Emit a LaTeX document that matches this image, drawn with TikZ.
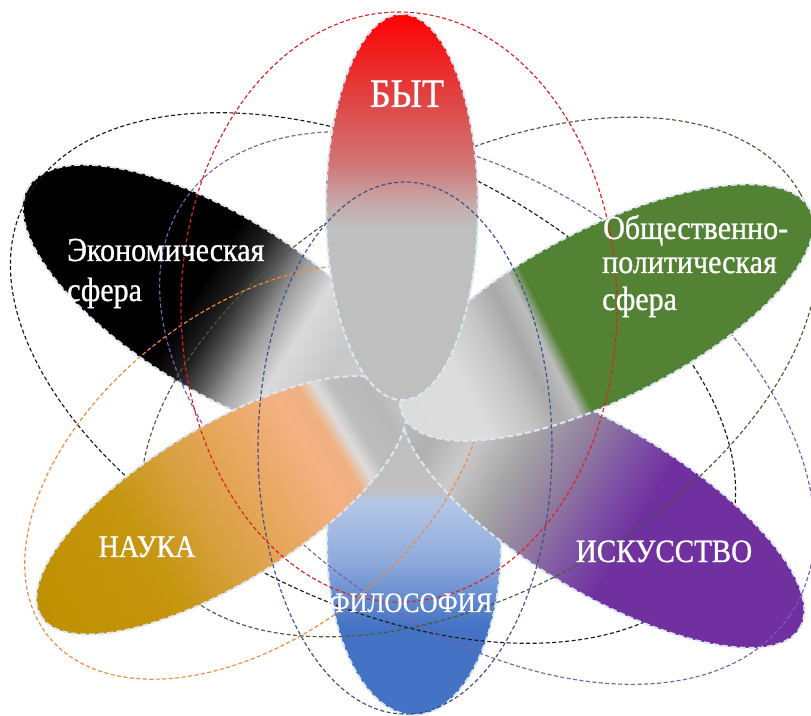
\documentclass[tikz,border=0pt]{standalone}
\usepackage{fontspec}
\setmainfont{Liberation Serif}
\newfontfamily\lblfont[FakeBold=0.9]{Liberation Serif}
\usepackage{graphicx}
% colours
\definecolor{gA}{HTML}{BFBFBF}
\definecolor{rA}{HTML}{C7A9A9}\definecolor{rB}{HTML}{D07777}\definecolor{rC}{HTML}{E04444}\definecolor{rD}{HTML}{FF0000}
\definecolor{gC}{HTML}{C0C0C0}\definecolor{bA}{HTML}{B4C7E7}\definecolor{bB}{HTML}{8EAADB}\definecolor{bC}{HTML}{4472C4}
\definecolor{kA}{HTML}{D0D0D0}\definecolor{kB}{HTML}{C8C8C8}\definecolor{kC}{HTML}{DADADA}\definecolor{kD}{HTML}{A0A0A0}\definecolor{kE}{HTML}{606060}\definecolor{kF}{HTML}{202020}\definecolor{kG}{HTML}{000000}
\definecolor{gnA}{HTML}{D9D9D9}\definecolor{gnB}{HTML}{DCDCDC}\definecolor{gnC}{HTML}{C4C4C4}\definecolor{gnD}{HTML}{A9A9A9}\definecolor{gnE}{HTML}{BCBCBC}\definecolor{gnF}{HTML}{548235}
\definecolor{pA}{HTML}{C0C0C0}\definecolor{pB}{HTML}{B0B0B0}\definecolor{pC}{HTML}{CACACA}\definecolor{pD}{HTML}{A6A6A6}\definecolor{pE}{HTML}{8F7A9F}\definecolor{pF}{HTML}{7D4FA5}\definecolor{pG}{HTML}{7030A0}
\definecolor{nA}{HTML}{C8C8C8}\definecolor{nB}{HTML}{B8B8B8}\definecolor{nC}{HTML}{BDBDBD}\definecolor{nD}{HTML}{DCDCDC}\definecolor{nE}{HTML}{F0B080}\definecolor{nF}{HTML}{F4B183}\definecolor{nG}{HTML}{E8A860}\definecolor{nH}{HTML}{D8A040}\definecolor{nI}{HTML}{C5960F}\definecolor{nJ}{HTML}{BF9000}
\definecolor{edgeC}{HTML}{DCE6F5}
\definecolor{dRed}{HTML}{E02020}
\definecolor{dBlack}{HTML}{1A1A1A}
\definecolor{dOlive}{HTML}{4A5A36}
\definecolor{dOrange}{HTML}{F08A3C}
\definecolor{dPurple}{HTML}{7E5CB0}
\definecolor{dNavy}{HTML}{3C4F8C}
% shadings: 25bp = inner tip, 75bp = outer tip
\pgfdeclarehorizontalshading{shTop}{100bp}{color(0bp)=(gA); color(47.5bp)=(gA); color(50.5bp)=(rA); color(55.5bp)=(rB); color(64bp)=(rC); color(75bp)=(rD); color(100bp)=(rD)}
\pgfdeclarehorizontalshading{shBottom}{100bp}{color(0bp)=(gC); color(42bp)=(gC); color(43.5bp)=(bA); color(52.5bp)=(bB); color(62bp)=(bC); color(100bp)=(bC)}
\pgfdeclarehorizontalshading{shBlack}{100bp}{color(0bp)=(kA); color(25bp)=(kA); color(35bp)=(kB); color(40bp)=(kC); color(43.5bp)=(kD); color(46bp)=(kE); color(49bp)=(kF); color(52.5bp)=(kG); color(100bp)=(kG)}
\pgfdeclarehorizontalshading{shGreen}{100bp}{color(0bp)=(gnA); color(32.5bp)=(gnB); color(37bp)=(gnC); color(40bp)=(gnD); color(42.25bp)=(gnE); color(43.75bp)=(gnF); color(100bp)=(gnF)}
\pgfdeclarehorizontalshading{shPurple}{100bp}{color(0bp)=(pA); color(25bp)=(pA); color(30bp)=(pB); color(34bp)=(pC); color(39bp)=(pD); color(45bp)=(pE); color(50bp)=(pF); color(54bp)=(pG); color(100bp)=(pG)}
\pgfdeclarehorizontalshading{shNauka}{100bp}{color(0bp)=(nA); color(25bp)=(nA); color(28bp)=(nB); color(31.5bp)=(nC); color(33.25bp)=(nD); color(35bp)=(nE); color(38bp)=(nF); color(45bp)=(nG); color(52.5bp)=(nH); color(60bp)=(nI); color(75bp)=(nJ); color(100bp)=(nJ)}
\tikzset{
  petaledge/.style={draw=edgeC, line width=2pt, dash pattern=on 6pt off 3pt},
  dsh/.style={line width=1.15pt, dash pattern=on 4pt off 2.5pt},
  lbl/.style={text=white, inner sep=0pt, font=\lblfont},
}
\newcommand{\petalshape}[6]{%
  \begin{scope}[transform canvas={shift={(#1,#2)},rotate=#3}]
    \shade[shading=#6] (0,0) ellipse [x radius=#4, y radius=#5];
    \draw[petaledge] (0,0) ellipse [x radius=#4, y radius=#5];
  \end{scope}}
\newcommand{\yst}[1]{\scalebox{1}[1.12]{#1}}
\begin{document}
\begin{tikzpicture}[x=1pt,y=1pt]
\useasboundingbox (0,0) rectangle (811,715);
\fill[white] (0,0) rectangle (811,715);
% bottom petal (philosophy)
\petalshape{414}{170}{-90}{170}{87}{shBottom}
% economic sphere petal
\petalshape{216}{413}{148.5}{220}{88}{shBlack}
\draw[dsh, draw=dBlack, rotate around={-26.7:(373,337)}] (373,337) ellipse [x radius=390, y radius=223];
% art petal
\petalshape{602.5}{205}{-30.9}{230}{83}{shPurple}
\draw[dsh, draw=dPurple, rotate around={-34.5:(487,307)}] (487,307) ellipse [x radius=367, y radius=221];
\draw[dsh, draw=dOrange, rotate around={38.3:(255,243)}] (255,243) ellipse [x radius=264, y radius=162];
\draw[dsh, draw=dOlive, rotate around={29.7:(479,338)}] (479,338) ellipse [x radius=370, y radius=212];
% science petal
\petalshape{221.6}{209.7}{211.5}{212}{78}{shNauka}
% socio-political petal
\petalshape{606.5}{402.5}{27}{228}{85}{shGreen}
% everyday life petal
\petalshape{402}{508}{90}{193}{76}{shTop}
% top dashed rings
\draw[dsh, draw=dNavy] (405,267) ellipse [x radius=147, y radius=266];
\draw[dsh, draw=dRed] (399,408) ellipse [x radius=218, y radius=295];
% labels
\node[lbl, anchor=base] (byt) at (407,608) {\fontsize{36}{40}\selectfont\yst{БЫТ}};
\node[lbl, anchor=base west] (econA) at (67,454) {\fontsize{30}{36}\selectfont\yst{Экономическая}};
\node[lbl, anchor=base west] (econB) at (67,414) {\fontsize{30}{36}\selectfont\yst{сфера}};
\node[lbl, anchor=base west] (socA) at (603,476) {\fontsize{30}{36}\selectfont\yst{Общественно-}};
\node[lbl, anchor=base west] (socB) at (602,442) {\fontsize{30}{36}\selectfont\yst{политическая}};
\node[lbl, anchor=base west] (socC) at (602,405) {\fontsize{30}{36}\selectfont\yst{сфера}};
\node[lbl, anchor=base] (nauka) at (147,158) {\fontsize{28}{32}\selectfont\yst{НАУКА}};
\node[lbl, anchor=base] (isk) at (664,153) {\fontsize{29}{32}\selectfont\yst{ИСКУССТВО}};
\node[lbl, anchor=base] (fil) at (411,103) {\fontsize{25}{30}\selectfont\yst{ФИЛОСОФИЯ}};
\end{tikzpicture}
\end{document}
